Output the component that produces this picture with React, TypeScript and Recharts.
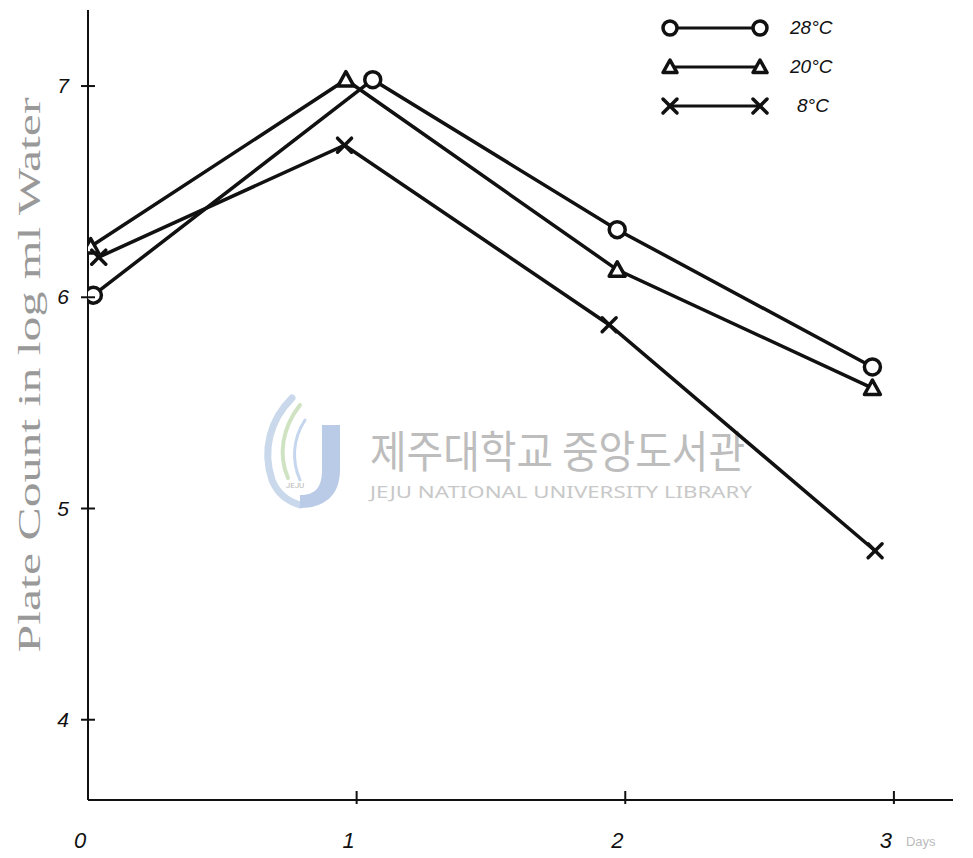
import { LineChart, Line, XAxis, YAxis } from 'recharts'

// days after inoculation and log plate count for each storage temperature
const days28 = [0.02, 1.06, 1.97, 2.92]
const count28 = [6.01, 7.03, 6.32, 5.67]
const days20 = [0.01, 0.96, 1.97, 2.92]
const count20 = [6.24, 7.03, 6.13, 5.57]
const days8 = [0.04, 0.955, 1.94, 2.93]
const count8 = [6.19, 6.72, 5.87, 4.8]

const xTicks = [0, 1, 2, 3]
const yTicks = [4, 5, 6, 7]
const seriesNames = ['28°C', '20°C', '8°C']

const toRows = (days: number[], counts: number[]) =>
  days.map((d, i) => ({ day: d, count: counts[i] }))

const rows28 = toRows(days28, count28)
const rows20 = toRows(days20, count20)
const rows8 = toRows(days8, count8)

const INK = '#111'
const W = 973
const H = 858

const CircleMark = ({ cx, cy, size = 8 }: any) => (
  <circle cx={cx} cy={cy} r={size} fill="#fff" stroke={INK} strokeWidth={3.5} />
)

const TriMark = ({ cx, cy, size = 8 }: any) => (
  <path
    d={`M${cx},${cy - size} L${cx + size},${cy + size * 0.8} L${cx - size},${cy + size * 0.8} Z`}
    fill="#fff"
    stroke={INK}
    strokeWidth={3.5}
    strokeLinejoin="round"
  />
)

const CrossMark = ({ cx, cy, size = 7 }: any) => (
  <g stroke={INK} strokeWidth={3.5} strokeLinecap="round">
    <line x1={cx - size} y1={cy - size} x2={cx + size} y2={cy + size} />
    <line x1={cx + size} y1={cy - size} x2={cx - size} y2={cy + size} />
  </g>
)

const markFor = (Mark: any) => (p: any) =>
  <Mark key={`m-${p.index}`} cx={p.cx} cy={p.cy} />

const handFont = '"Liberation Sans", sans-serif'

const YTick = ({ x, y, payload }: any) => (
  <g>
    <line x1={x - 7} y1={y} x2={x + 7} y2={y} stroke={INK} strokeWidth={2} />
    <text x={x - 25} y={y + 7} textAnchor="middle" fontSize={21} fontStyle="italic"
      fontFamily={handFont} fill={INK}>
      {payload.value}
    </text>
  </g>
)

const XTick = ({ x, y, payload }: any) => (
  <g>
    {payload.value !== 0 && (
      <line x1={x} y1={y - 9} x2={x} y2={y + 4} stroke={INK} strokeWidth={2} />
    )}
    <text x={x - 8} y={y + 48} textAnchor="middle" fontSize={22} fontStyle="italic"
      fontFamily={handFont} fill={INK}>
      {payload.value}
    </text>
    {payload.value === 3 && (
      <text x={x + 12} y={y + 46} fontSize={13} fontFamily={handFont} fill="#bbb">
        Days
      </text>
    )}
  </g>
)

const legendMarks = [CircleMark, TriMark, CrossMark]

// key in the upper right corner
const KeyBox = () => (
  <svg width={200} height={130} style={{ position: 'absolute', left: 650, top: 0 }}>
    {seriesNames.map((name, i) => {
      const Mark = legendMarks[i]
      const y = 28 + i * 39
      return (
        <g key={name}>
          <line x1={20} y1={y} x2={110} y2={y} stroke={INK} strokeWidth={3} />
          <Mark cx={20} cy={y} size={7} />
          <Mark cx={110} cy={y} size={7} />
          <text x={i === 2 ? 147 : 140} y={y + 6} fontSize={19} fontStyle="italic"
            fontFamily={handFont} fill={INK}>
            {name}
          </text>
        </g>
      )
    })}
  </svg>
)

// faint library stamp that sits behind the plot
const Stamp = () => (
  <svg width={W} height={H} style={{ position: 'absolute', left: 0, top: 0 }}>
    <g fill="none" strokeLinecap="round">
      <path d="M292,398 C270,420 262,450 272,480 C278,495 290,502 300,505" stroke="#c9d8ea" strokeWidth={7} />
      <path d="M300,405 C282,428 278,455 288,478" stroke="#cfe3c2" strokeWidth={4} />
      <path d="M305,420 C292,440 292,462 300,480" stroke="#c5d6ee" strokeWidth={3} />
    </g>
    <path d="M322,425 L340,425 L340,470 C340,495 325,508 300,508 L300,495 C315,495 322,488 322,470 Z"
      fill="#b9cbe6" />
    <text x={295} y={488} fontSize={8} textAnchor="middle" fill="#b8b8b8" fontFamily="Roboto">JEJU</text>
    <text x={370} y={468} fontSize={44} fill="#bdbdbd" fontFamily='"Noto Sans CJK KR"'
      textLength={375} lengthAdjust="spacingAndGlyphs">
      제주대학교 중앙도서관
    </text>
    <text x={370} y={498} fontSize={16} fill="#c8c8c8" fontFamily='"Noto Sans", sans-serif'
      textLength={382} lengthAdjust="spacingAndGlyphs">
      JEJU NATIONAL UNIVERSITY LIBRARY
    </text>
  </svg>
)

export default function App() {
  return (
    <div style={{ position: 'absolute', left: 0, top: 0, width: W, height: H, background: '#fff' }}>
      <Stamp />
      <svg width={W} height={H} style={{ position: 'absolute', left: 0, top: 0 }}>
        <text
          transform="translate(40,375) rotate(-90)"
          textAnchor="middle"
          fontSize={32}
          fill="#999"
          fontFamily='"Liberation Serif", serif'
          textLength={555}
          lengthAdjust="spacingAndGlyphs"
        >
          Plate Count in log ml Water
        </text>
      </svg>
      <div style={{ position: 'absolute', left: 0, top: 0 }}>
        <LineChart width={W} height={H} margin={{ top: 10, right: 20, bottom: 0, left: 28 }}>
          <XAxis
            type="number"
            dataKey="day"
            domain={[0, 3.22]}
            ticks={xTicks}
            allowDataOverflow
            height={58}
            tickSize={0}
            tickMargin={0}
            tick={<XTick />}
            axisLine={{ stroke: INK, strokeWidth: 2 }}
          />
          <YAxis
            type="number"
            dataKey="count"
            domain={[3.62, 7.36]}
            ticks={yTicks}
            allowDataOverflow
            width={60}
            tickSize={0}
            tickMargin={0}
            tick={<YTick />}
            axisLine={{ stroke: INK, strokeWidth: 2 }}
          />
          <Line data={rows28} dataKey="count" name={seriesNames[0]} stroke={INK} strokeWidth={3.5}
            dot={markFor(CircleMark)} isAnimationActive={false} />
          <Line data={rows20} dataKey="count" name={seriesNames[1]} stroke={INK} strokeWidth={3.5}
            dot={markFor(TriMark)} isAnimationActive={false} />
          <Line data={rows8} dataKey="count" name={seriesNames[2]} stroke={INK} strokeWidth={3.5}
            dot={markFor(CrossMark)} isAnimationActive={false} />
        </LineChart>
      </div>
      <KeyBox />
    </div>
  )
}
